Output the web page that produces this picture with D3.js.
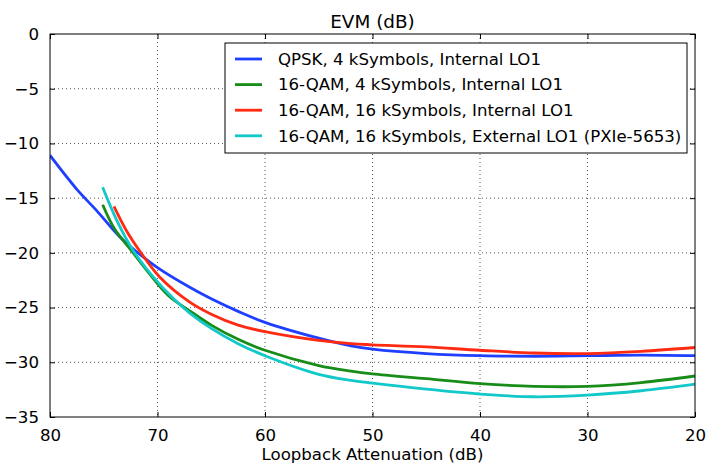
<!DOCTYPE html>
<html>
<head>
<meta charset="utf-8">
<script src="https://cdn.jsdelivr.net/npm/d3@7"></script>
<style>
  body { margin: 0; background: #fff; }
  text { font-family: "DejaVu Sans", sans-serif; }
</style>
</head>
<body>
<div id="chart"></div>
<script>
const F_WIDTH = 706;
const F_HEIGHT = 464;
const MARGINS = {left: 50, right: 11, top: 34, bottom: 47};

const VIS_WIDTH = F_WIDTH - MARGINS.left - MARGINS.right;
const VIS_HEIGHT = F_HEIGHT - MARGINS.top - MARGINS.bottom;

// series data: [attenuation dB, EVM dB]
const qpsk4k = [[80, -11.1], [77.5, -14.2], [75.7, -16.1], [73.5, -18.55], [72, -19.85], [70, -21.35],
  [67, -23.15], [65, -24.2], [62.5, -25.35], [60, -26.35], [55, -27.8], [52, -28.5], [50, -28.8],
  [45, -29.2], [40, -29.4], [35, -29.45], [30, -29.4], [25, -29.35], [20, -29.4]];
const qam4k = [[75.1, -15.6], [74, -17.8], [72.5, -19.7], [71, -21.6], [69, -23.9], [67, -25.3],
  [65, -26.6], [62.5, -27.9], [60, -28.9], [55, -30.3], [52, -30.8], [50, -31.05], [45, -31.5],
  [40, -31.95], [35, -32.2], [30, -32.2], [25, -31.85], [20, -31.25]];
const qam16kInt = [[74.05, -15.75], [72.9, -17.95], [71.6, -19.9], [69.8, -22.2], [67, -24.5],
  [65, -25.6], [62.5, -26.6], [60, -27.2], [55, -28.0], [52, -28.3], [50, -28.4], [45, -28.6],
  [40, -28.9], [35, -29.15], [30, -29.2], [25, -29.0], [20, -28.65]];
const qam16kExt = [[75.1, -14.0], [73.8, -17.0], [72.25, -19.8], [70.4, -22.2], [68.5, -24.2],
  [67, -25.5], [65, -26.9], [62.5, -28.3], [60, -29.4], [55, -31.1], [52, -31.65], [50, -31.9],
  [45, -32.45], [40, -32.9], [35, -33.15], [30, -33.0], [25, -32.6], [20, -32.0]];

const seriesNames = ["QPSK, 4 kSymbols, Internal LO1", "16-QAM, 4 kSymbols, Internal LO1",
  "16-QAM, 16 kSymbols, Internal LO1", "16-QAM, 16 kSymbols, External LO1 (PXIe-5653)"];
const seriesColors = ["#1f3fff", "#188c18", "#ff2a12", "#12c8c8"];
const seriesData = [qpsk4k, qam4k, qam16kInt, qam16kExt];

const xTicks = [80, 70, 60, 50, 40, 30, 20];
const yTicks = [0, -5, -10, -15, -20, -25, -30, -35];

const FS = 16.6;

const FRAME = d3.select("#chart")
  .append("svg")
    .attr("width", F_WIDTH)
    .attr("height", F_HEIGHT);

const X_SCALE = d3.scaleLinear().domain([80, 20]).range([0, VIS_WIDTH]);
const Y_SCALE = d3.scaleLinear().domain([-35, 0]).range([VIS_HEIGHT, 0]);

const G = FRAME.append("g")
  .attr("transform", "translate(" + MARGINS.left + "," + MARGINS.top + ")");

// dotted grid
G.append("g").selectAll("line")
  .data(xTicks.slice(1, -1))
  .enter().append("line")
    .attr("x1", d => X_SCALE(d)).attr("x2", d => X_SCALE(d))
    .attr("y1", 0).attr("y2", VIS_HEIGHT)
    .attr("stroke", "#555").attr("stroke-width", 1)
    .attr("stroke-dasharray", "1,3");
G.append("g").selectAll("line")
  .data(yTicks.slice(1, -1))
  .enter().append("line")
    .attr("y1", d => Y_SCALE(d)).attr("y2", d => Y_SCALE(d))
    .attr("x1", 0).attr("x2", VIS_WIDTH)
    .attr("stroke", "#555").attr("stroke-width", 1)
    .attr("stroke-dasharray", "1,3");

// axes, ticks pointing inward
const fmt = d3.format("d");
const axisStyle = (g) => {
  g.select(".domain").remove();
  g.selectAll("text").attr("font-size", FS).attr("fill", "#000");
  g.selectAll("line").attr("stroke", "#000");
};
G.append("g")
  .attr("transform", "translate(0," + VIS_HEIGHT + ")")
  .call(d3.axisBottom(X_SCALE).tickValues(xTicks).tickFormat(fmt).tickSizeInner(-5).tickPadding(12))
  .call(axisStyle);
G.append("g")
  .call(d3.axisTop(X_SCALE).tickValues(xTicks).tickFormat("").tickSizeInner(-5))
  .call(axisStyle);
G.append("g")
  .call(d3.axisLeft(Y_SCALE).tickValues(yTicks).tickFormat(fmt).tickSizeInner(-5).tickPadding(11))
  .call(axisStyle);
G.append("g")
  .attr("transform", "translate(" + VIS_WIDTH + ",0)")
  .call(d3.axisRight(Y_SCALE).tickValues(yTicks).tickFormat("").tickSizeInner(-5))
  .call(axisStyle);

// curves
const line = d3.line()
  .x(d => X_SCALE(d[0]))
  .y(d => Y_SCALE(d[1]))
  .curve(d3.curveCatmullRom.alpha(0.5));

G.append("clipPath").attr("id", "clip")
  .append("rect").attr("width", VIS_WIDTH).attr("height", VIS_HEIGHT);

G.append("g").attr("clip-path", "url(#clip)")
  .selectAll("path")
  .data(seriesData)
  .enter().append("path")
    .attr("d", d => line(d))
    .attr("fill", "none")
    .attr("stroke", (d, i) => seriesColors[i])
    .attr("stroke-width", 2.8);

// frame
G.append("rect")
  .attr("width", VIS_WIDTH).attr("height", VIS_HEIGHT)
  .attr("fill", "none").attr("stroke", "#000").attr("stroke-width", 1);

// legend
const LEG = G.append("g").attr("transform", "translate(" + (225 - MARGINS.left) + "," + (43 - MARGINS.top) + ")");
LEG.append("rect")
  .attr("width", 462).attr("height", 110)
  .attr("fill", "#fff").attr("stroke", "#000").attr("stroke-width", 1);
seriesNames.forEach((name, i) => {
  const y = 16 + i * 25.6;
  LEG.append("line")
    .attr("x1", 10).attr("x2", 37).attr("y1", y).attr("y2", y)
    .attr("stroke", seriesColors[i]).attr("stroke-width", 2.8);
  LEG.append("text")
    .attr("x", 53).attr("y", y).attr("dy", "0.35em")
    .attr("font-size", FS).text(name);
});

// title and axis label
FRAME.append("text")
  .attr("x", MARGINS.left + VIS_WIDTH / 2).attr("y", 28)
  .attr("text-anchor", "middle").attr("font-size", 18.4)
  .text("EVM (dB)");
FRAME.append("text")
  .attr("x", MARGINS.left + VIS_WIDTH / 2).attr("y", 460)
  .attr("text-anchor", "middle").attr("font-size", FS)
  .text("Loopback Attenuation (dB)");
</script>
</body>
</html>
